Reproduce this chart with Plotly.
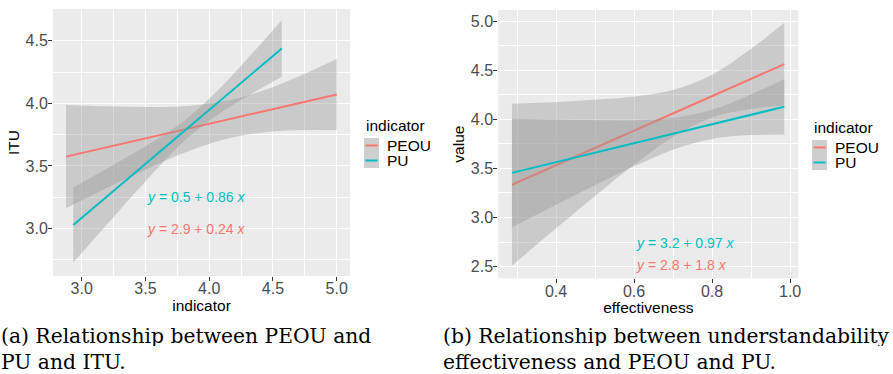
import plotly.graph_objects as go

# ---------------- data ----------------
series_names = ["PEOU", "PU"]
series_colors = {"PEOU": "#F8766D", "PU": "#00BFC4"}

# Panel (a): ITU vs indicator
a_peou_line_x = [2.877, 5.0]
a_peou_line_y = [3.575, 4.070]
a_pu_line_x = [2.934, 4.569]
a_pu_line_y = [3.029, 4.438]
a_peou_band_x = [2.877, 3.2, 3.5, 3.8, 4.1, 4.4, 4.7, 5.0]
a_peou_upper = [3.987, 3.976, 3.971, 3.977, 4.012, 4.094, 4.214, 4.354]
a_peou_lower = [3.163, 3.326, 3.471, 3.603, 3.708, 3.766, 3.786, 3.786]
a_pu_band_x = [2.934, 3.2, 3.5, 3.8, 4.1, 4.35, 4.569]
a_pu_upper = [3.329, 3.480, 3.657, 3.857, 4.136, 4.413, 4.663]
a_pu_lower = [2.729, 3.036, 3.377, 3.695, 3.932, 4.087, 4.213]
a_equations = {"PU": "<i>y</i> = 0.5 + 0.86 <i>x</i>", "PEOU": "<i>y</i> = 2.9 + 0.24 <i>x</i>"}
a_eq_pos = {"PU": (3.5, 3.255), "PEOU": (3.5, 3.0)}

# Panel (b): value vs effectiveness
b_peou_line_x = [0.287, 0.985]
b_peou_line_y = [3.334, 4.561]
b_pu_line_x = [0.287, 0.985]
b_pu_line_y = [3.455, 4.128]
b_band_x = [0.287, 0.4, 0.5, 0.6, 0.7, 0.8, 0.9, 0.985]
b_peou_upper = [4.157, 4.176, 4.198, 4.231, 4.297, 4.453, 4.717, 4.981]
b_peou_lower = [2.511, 2.890, 3.220, 3.537, 3.823, 4.019, 4.105, 4.141]
b_pu_upper = [4.009, 3.997, 3.990, 3.991, 4.015, 4.098, 4.253, 4.411]
b_pu_lower = [2.901, 3.131, 3.330, 3.521, 3.691, 3.800, 3.839, 3.845]
b_equations = {"PU": "<i>y</i> = 3.2 + 0.97 <i>x</i>", "PEOU": "<i>y</i> = 2.8 + 1.8 <i>x</i>"}
b_eq_pos = {"PU": (0.6, 2.74), "PEOU": (0.6, 2.52)}

a_xticks = [3.0, 3.5, 4.0, 4.5, 5.0]
a_yticks = [3.0, 3.5, 4.0, 4.5]
b_xticks = [0.4, 0.6, 0.8, 1.0]
b_yticks = [2.5, 3.0, 3.5, 4.0, 4.5, 5.0]

captions = {
    "a": ["(a) Relationship between PEOU and", "PU and ITU."],
    "b": ["(b) Relationship between understandability", "effectiveness and PEOU and PU."],
}

# ---------------- figure ----------------
W, H = 893, 374
BAND = "rgba(153,153,153,0.4)"
SANS = "Liberation Sans, Arial, sans-serif"
SERIF = "DejaVu Serif, serif"

fig = go.Figure()


def add_panel(xa, ya, bands, lines):
    for name in series_names:
        bx, lo, up = bands[name]
        fig.add_trace(go.Scatter(x=bx, y=lo, mode="lines", line=dict(width=0, shape="spline"),
                                 hoverinfo="skip", showlegend=False, xaxis=xa, yaxis=ya))
        fig.add_trace(go.Scatter(x=bx, y=up, mode="lines", line=dict(width=0, shape="spline"),
                                 fill="tonexty", fillcolor=BAND, hoverinfo="skip",
                                 showlegend=False, xaxis=xa, yaxis=ya))
        lx, ly = lines[name]
        fig.add_trace(go.Scatter(x=lx, y=ly, mode="lines", name=name,
                                 line=dict(color=series_colors[name], width=2),
                                 showlegend=False, xaxis=xa, yaxis=ya))


add_panel("x", "y",
          {"PEOU": (a_peou_band_x, a_peou_lower, a_peou_upper),
           "PU": (a_pu_band_x, a_pu_lower, a_pu_upper)},
          {"PEOU": (a_peou_line_x, a_peou_line_y), "PU": (a_pu_line_x, a_pu_line_y)})
add_panel("x2", "y2",
          {"PEOU": (b_band_x, b_peou_lower, b_peou_upper),
           "PU": (b_band_x, b_pu_lower, b_pu_upper)},
          {"PEOU": (b_peou_line_x, b_peou_line_y), "PU": (b_pu_line_x, b_pu_line_y)})


def px_x(p):
    return p / W


def px_y(p):
    return 1 - p / H


def axis(domain, rng, ticks, minor_dtick, minor_tick0, title, anchor, standoff, lab_standoff):
    return dict(
        domain=domain, range=rng, tickvals=ticks, tickformat=".1f",
        showgrid=True, gridcolor="white", gridwidth=1.1,
        minor=dict(dtick=minor_dtick, tick0=minor_tick0, showgrid=True, gridcolor="white",
                   gridwidth=0.5, ticks=""),
        zeroline=False, showline=False,
        ticks="outside", ticklen=4, tickwidth=1, tickcolor="#333333",
        ticklabelstandoff=lab_standoff,
        tickfont=dict(family=SANS, size=16, color="#4D4D4D"),
        title=dict(text=title, font=dict(family=SANS, size=15.5, color="black"), standoff=standoff),
        anchor=anchor, automargin=False,
    )


fig.update_layout(
    width=W, height=H, autosize=False,
    margin=dict(l=0, r=0, t=0, b=0),
    paper_bgcolor="white", plot_bgcolor="#EBEBEB",
    showlegend=False,
    xaxis=axis([px_x(53), px_x(350)], [2.775, 5.104], a_xticks, 0.25, 2.75, "indicator", "y", 1, -6),
    yaxis=axis([px_y(276), px_y(9)], [2.622, 4.753], a_yticks, 0.25, 2.75, "ITU", "x", 2, -3),
    xaxis2=axis([px_x(498.3), px_x(798.3)], [0.252, 1.021], b_xticks, 0.1, 0.3, "effectiveness", "y2", 1, -6),
    yaxis2=axis([px_y(278.3), px_y(10)], [2.382, 5.112], b_yticks, 0.25, 2.25, "value", "x2", 2, -3),
)

annotations = []
shapes = []

# regression equations
for eqs, pos, xr, yr in [(a_equations, a_eq_pos, "x", "y"), (b_equations, b_eq_pos, "x2", "y2")]:
    for name in ["PU", "PEOU"]:
        annotations.append(dict(x=pos[name][0], y=pos[name][1], xref=xr, yref=yr, text=eqs[name],
                                showarrow=False, xanchor="left", yanchor="middle",
                                font=dict(family=SANS, size=14, color=series_colors[name])))

# manual ggplot-style legends
for lx, ty in [(364, 125), (812, 127)]:
    annotations.append(dict(x=px_x(lx), y=px_y(ty), xref="paper", yref="paper", text="indicator",
                            showarrow=False, xanchor="left", yanchor="middle",
                            font=dict(family=SANS, size=15.5, color="black")))
    for i, name in enumerate(series_names):
        top = ty + 13 + i * 15
        shapes.append(dict(type="rect", xref="paper", yref="paper",
                           x0=px_x(lx), x1=px_x(lx + 15), y0=px_y(top + 15), y1=px_y(top),
                           fillcolor="#CFCFCF", line=dict(width=0), layer="above"))
        shapes.append(dict(type="line", xref="paper", yref="paper",
                           x0=px_x(lx + 1.5), x1=px_x(lx + 13.5), y0=px_y(top + 7.5), y1=px_y(top + 7.5),
                           line=dict(color=series_colors[name], width=2), layer="above"))
        annotations.append(dict(x=px_x(lx + 22), y=px_y(top + 7.5), xref="paper", yref="paper",
                                text=name, showarrow=False, xanchor="left", yanchor="middle",
                                height=15, borderpad=0,
                                font=dict(family=SANS, size=15.5, color="black")))

# sub-figure captions
for key, cx in [("a", 0), ("b", 442)]:
    for i, line in enumerate(captions[key]):
        annotations.append(dict(x=px_x(cx), y=px_y(336 + 26 * i), xref="paper", yref="paper",
                                text=line, showarrow=False, xanchor="left", yanchor="middle",
                                height=20, borderpad=0,
                                font=dict(family=SERIF, size=20.3, color="black")))

fig.update_layout(annotations=annotations, shapes=shapes)
fig.write_html("out.html", config={"displayModeBar": False},
               post_script="document.body.style.margin='0px';")
